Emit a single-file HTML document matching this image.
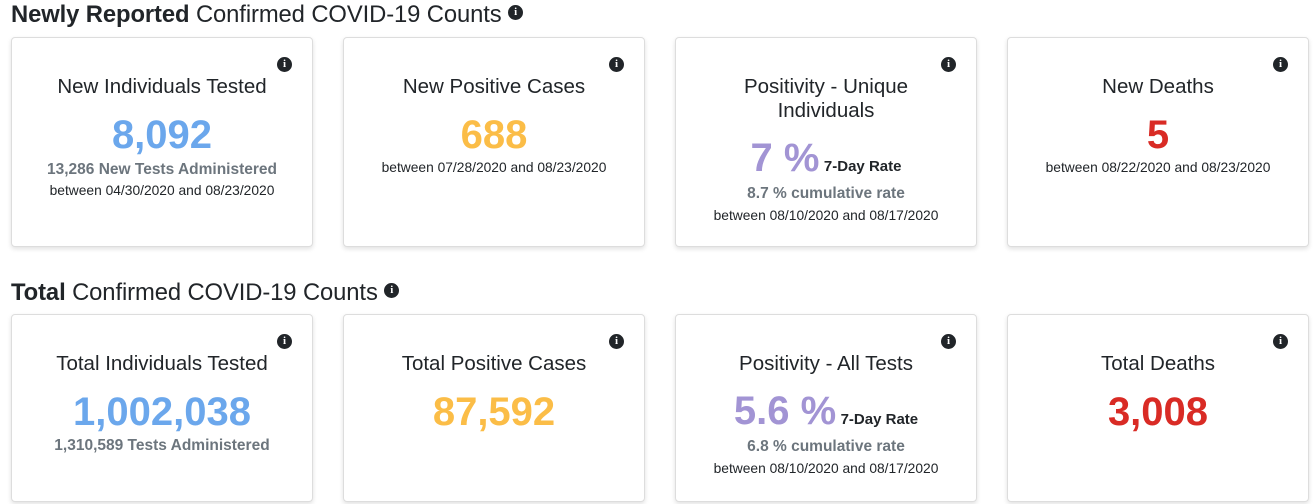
<!DOCTYPE html>
<html><head><style>
body{margin:0;width:1316px;height:504px;background:#fff;font-family:"Liberation Sans",sans-serif;color:#212529;position:relative;overflow:hidden}
.h{position:absolute;left:11px;font-size:23.8px;white-space:nowrap;letter-spacing:-0.1px}
.h b{font-weight:bold}
.card{position:absolute;width:300px;border:1px solid #ddd;border-radius:4px;box-shadow:0 2px 5px rgba(0,0,0,.12);background:#fff}
.i{position:absolute;width:15px;height:15px;border-radius:50%;background:#212529;color:#fff;font:bold 11px/15px "Liberation Serif",serif;text-align:center}
.t{position:absolute;left:0;width:100%;text-align:center;white-space:nowrap}
.title{font-size:20.5px;line-height:24px}
.num{font-size:40px;font-weight:bold}
.sub{font-size:15.5px;font-weight:bold;color:#6c757d}
.sm{font-size:13.8px}
.rate{font-size:15px;font-weight:bold;color:#212529}
</style></head><body>
<div class="h" style="top:1px"><b>Newly Reported</b> Confirmed COVID-19 Counts <span class="i" style="position:relative;display:inline-block;top:-7px">i</span></div>
<div class="h" style="top:279px"><b>Total</b> Confirmed COVID-19 Counts <span class="i" style="position:relative;display:inline-block;top:-7px">i</span></div>

<div class="card" style="left:11px;top:37px;height:208px">
<div class="i" style="left:265px;top:19px">i</div>
<div class="t title" style="top:37px">New Individuals Tested</div>
<div class="t num" style="top:75px;color:#6ba7ec">8,092</div>
<div class="t sub" style="top:123px">13,286 New Tests Administered</div>
<div class="t sm" style="top:145px">between 04/30/2020 and 08/23/2020</div>
</div>
<div class="card" style="left:343px;top:37px;height:208px">
<div class="i" style="left:265px;top:19px">i</div>
<div class="t title" style="top:37px">New Positive Cases</div>
<div class="t num" style="top:75px;color:#fbbd47">688</div>
<div class="t sm" style="top:122px">between 07/28/2020 and 08/23/2020</div>
</div>
<div class="card" style="left:675px;top:37px;height:208px">
<div class="i" style="left:265px;top:19px">i</div>
<div class="t title" style="top:37px">Positivity - Unique<br>Individuals</div>
<div class="t" style="top:98px"><span class="num" style="color:#a294d4">7 %</span> <span class="rate">7-Day Rate</span></div>
<div class="t sub" style="top:147px">8.7 % cumulative rate</div>
<div class="t sm" style="top:170px">between 08/10/2020 and 08/17/2020</div>
</div>
<div class="card" style="left:1007px;top:37px;height:208px">
<div class="i" style="left:265px;top:19px">i</div>
<div class="t title" style="top:37px">New Deaths</div>
<div class="t num" style="top:75px;color:#d92b25">5</div>
<div class="t sm" style="top:122px">between 08/22/2020 and 08/23/2020</div>
</div>

<div class="card" style="left:11px;top:314px;height:186px">
<div class="i" style="left:265px;top:19px">i</div>
<div class="t title" style="top:37px">Total Individuals Tested</div>
<div class="t num" style="top:75px;color:#6ba7ec">1,002,038</div>
<div class="t sub" style="top:122px">1,310,589 Tests Administered</div>
</div>
<div class="card" style="left:343px;top:314px;height:186px">
<div class="i" style="left:265px;top:19px">i</div>
<div class="t title" style="top:37px">Total Positive Cases</div>
<div class="t num" style="top:75px;color:#fbbd47">87,592</div>
</div>
<div class="card" style="left:675px;top:314px;height:186px">
<div class="i" style="left:265px;top:19px">i</div>
<div class="t title" style="top:37px">Positivity - All Tests</div>
<div class="t" style="top:74px"><span class="num" style="color:#a294d4">5.6 %</span> <span class="rate">7-Day Rate</span></div>
<div class="t sub" style="top:123px">6.8 % cumulative rate</div>
<div class="t sm" style="top:146px">between 08/10/2020 and 08/17/2020</div>
</div>
<div class="card" style="left:1007px;top:314px;height:186px">
<div class="i" style="left:265px;top:19px">i</div>
<div class="t title" style="top:37px">Total Deaths</div>
<div class="t num" style="top:75px;color:#d92b25">3,008</div>
</div>
</body></html>
